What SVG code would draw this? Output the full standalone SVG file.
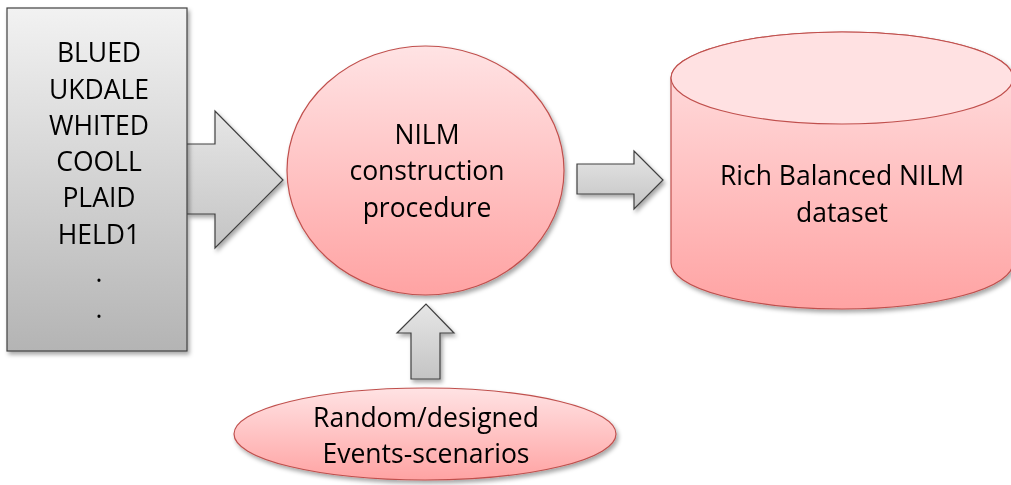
<svg xmlns="http://www.w3.org/2000/svg" width="1011" height="485" viewBox="0 0 1011 485">
<defs>
<linearGradient id="gray" x1="0" y1="0" x2="0" y2="1">
<stop offset="0" stop-color="#f2f2f2"/>
<stop offset="1" stop-color="#b4b4b4"/>
</linearGradient>
<linearGradient id="grayA" x1="0" y1="0" x2="0" y2="1">
<stop offset="0" stop-color="#e6e6e6"/>
<stop offset="1" stop-color="#c4c4c4"/>
</linearGradient>
<linearGradient id="pink" x1="0" y1="0" x2="0" y2="1">
<stop offset="0" stop-color="#ffe3e4"/>
<stop offset="1" stop-color="#ffa3a3"/>
</linearGradient>
<filter id="sh" x="-10%" y="-10%" width="120%" height="120%">
<feDropShadow dx="2" dy="3" stdDeviation="2" flood-color="#000" flood-opacity="0.35"/>
</filter>
<style>
.g{fill:url(#gray);stroke:#404040;stroke-width:1.2}
.a{fill:url(#grayA);stroke:#404040;stroke-width:1.2}
.p{fill:url(#pink);stroke:#c0504d;stroke-width:1.2}
.t{font-family:"Open Sans","Liberation Sans",sans-serif;font-size:26.5px;fill:#000;text-anchor:middle}
</style>
</defs>
<g id="connectors" filter="url(#sh)">
<path class="a" d="M187,144 L215,144 L215,111 L283,180 L215,248 L215,214 L187,214"/>
<path class="a" d="M577,164 L634,164 L634,151 L663,180 L634,209 L634,194 L577,194 Z"/>
<path class="a" d="M411,379 L411,333 L397,333 L426,304 L454,333 L440,333 L440,379 Z"/>
</g>
<g id="sources" filter="url(#sh)">
<rect class="g" x="7" y="8" width="180" height="343"/>
<text class="t" x="99" y="62">BLUED</text>
<text class="t" x="99" y="99">UKDALE</text>
<text class="t" x="99" y="135">WHITED</text>
<text class="t" x="99" y="171">COOLL</text>
<text class="t" x="99" y="207">PLAID</text>
<text class="t" x="99" y="244">HELD1</text>
<text class="t" x="99" y="282">.</text>
<text class="t" x="99" y="318">.</text>
</g>
<g id="procedure" filter="url(#sh)">
<ellipse class="p" cx="425.5" cy="170.5" rx="138.5" ry="124.5"/>
<text class="t" x="427" y="144">NILM</text>
<text class="t" x="427" y="180">construction</text>
<text class="t" x="427" y="217">procedure</text>
</g>
<g id="dataset" filter="url(#sh)">
<path class="p" d="M671,78 L671,263 A171,46 0 0 0 1013,263 L1013,78 A171,46 0 0 0 671,78 Z"/>
<ellipse class="p" cx="842" cy="78" rx="171" ry="46" style="fill:#ffe1e2"/>
<text class="t" x="842" y="185">Rich Balanced NILM</text>
<text class="t" x="842" y="222">dataset</text>
</g>
<g id="events" filter="url(#sh)">
<ellipse class="p" cx="425" cy="434" rx="191" ry="46"/>
<text class="t" x="426" y="427">Random/designed</text>
<text class="t" x="426" y="463">Events-scenarios</text>
</g>
</svg>
